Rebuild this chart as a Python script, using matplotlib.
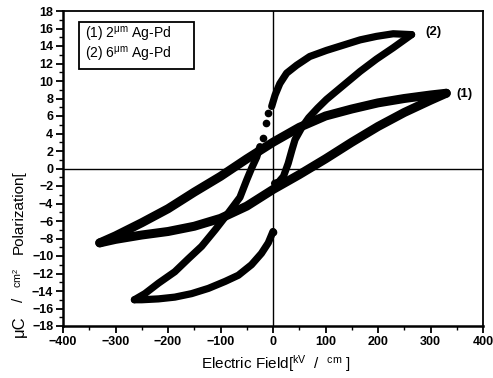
import numpy as np
import matplotlib
matplotlib.use('Agg')
import matplotlib.pyplot as plt
from matplotlib.patches import Rectangle
from matplotlib.ticker import MultipleLocator

plt.rcParams['font.family'] = ['Liberation Sans', 'Noto Sans CJK KR', 'DejaVu Sans']
plt.rcParams['mathtext.fontset'] = 'custom'
plt.rcParams['mathtext.rm'] = 'Liberation Sans'
plt.rcParams['mathtext.it'] = 'Liberation Sans:italic'

# loop (1) 2um Ag-Pd : descending then ascending branch
loop1_e_down = [330, 300, 250, 200, 150, 100, 50, 0, -50, -100, -150, -200, -250, -300, -330]
loop1_p_down = [8.6, 8.4, 8.0, 7.5, 6.8, 6.0, 4.7, 3.0, 1.1, -0.9, -2.7, -4.6, -6.2, -7.7, -8.5]
loop1_e_up = [-330, -300, -250, -200, -150, -100, -50, 0, 50, 100, 150, 200, 250, 300, 330]
loop1_p_up = [-8.5, -8.1, -7.6, -7.2, -6.6, -5.7, -4.3, -2.4, -0.7, 1.1, 3.0, 4.8, 6.4, 7.8, 8.6]

# loop (2) 6um Ag-Pd
loop2_e_top = [264, 229, 197, 166, 134, 102, 70, 45, 26, 13, 4, -2.5]
loop2_p_top = [15.3, 15.4, 15.1, 14.7, 14.1, 13.5, 12.8, 11.8, 10.9, 9.7, 8.4, 7.1]
loop2_e_gap = [-9, -13, -19]
loop2_p_gap = [6.3, 5.2, 3.5]
loop2_e_down = [-25, -31, -41, -50, -63, -88, -110, -136, -161, -187, -218, -244, -264]
loop2_p_down = [2.5, 1.3, 0.0, -1.3, -3.3, -5.3, -7.0, -8.9, -10.3, -11.8, -13.1, -14.3, -15.0]
loop2_e_bot = [-264, -250, -218, -187, -155, -123, -91, -66, -41, -22, -9, 0]
loop2_p_bot = [-15.0, -15.0, -14.9, -14.7, -14.3, -13.7, -12.9, -12.2, -11.0, -9.7, -8.5, -7.2]
loop2_e_jump = [0, 3]
loop2_p_jump = [-7.2, -1.7]
loop2_e_up = [3, 10, 20, 29, 36, 42, 55, 68, 85, 102, 134, 166, 197, 229, 264]
loop2_p_up = [-1.7, -1.6, -0.9, 0.6, 2.1, 3.3, 4.7, 5.8, 6.9, 7.9, 9.5, 11.1, 12.5, 13.8, 15.3]

xticks = [-400, -300, -200, -100, 0, 100, 200, 300, 400]
yticks = list(range(-18, 19, 2))

fig = plt.figure(figsize=(4.93, 3.78), dpi=100)
ax = fig.add_axes([63 / 493, 1 - 326 / 378, 420 / 493, 315 / 378])

ax.axhline(0, color='black', lw=1.0, zorder=1)
ax.axvline(0, color='black', lw=1.0, zorder=1)

kw1 = dict(color='black', lw=6.5, solid_capstyle='round', solid_joinstyle='round', zorder=3)
kw2 = dict(color='black', lw=5.2, solid_capstyle='round', solid_joinstyle='round', zorder=3)
ax.plot(loop1_e_down, loop1_p_down, **kw1)
ax.plot(loop1_e_up, loop1_p_up, **kw1)
ax.plot(loop2_e_top, loop2_p_top, **kw2)
ax.plot(loop2_e_down, loop2_p_down, **kw2)
ax.plot(loop2_e_bot, loop2_p_bot, **kw2)
ax.plot(loop2_e_up, loop2_p_up, **kw2)
ax.plot(loop2_e_gap, loop2_p_gap, 'o', color='black', ms=4.5, zorder=3)
ax.plot(loop2_e_jump, loop2_p_jump, 'o', color='black', ms=4.5, zorder=3)

ax.set_xlim(-400, 400)
ax.set_ylim(-18, 18)
ax.set_xticks(xticks)
ax.set_yticks(yticks)
ax.xaxis.set_minor_locator(MultipleLocator(50))
ax.yaxis.set_minor_locator(MultipleLocator(1))
ax.tick_params(which='major', direction='out', length=5, width=1.3, labelsize=9, pad=2)
ax.tick_params(which='minor', direction='out', length=3, width=1.0)
for lab in ax.get_xticklabels() + ax.get_yticklabels():
    lab.set_fontweight('bold')
for side in ['left', 'bottom']:
    ax.spines[side].set_linewidth(1.8)
for side in ['top', 'right']:
    ax.spines[side].set_linewidth(1.3)

# curve labels
ax.text(290, 15.6, '(2)', fontsize=9.5, fontweight='bold', va='center', ha='left')
ax.text(350, 8.5, '(1)', fontsize=9.5, fontweight='bold', va='center', ha='left')

# legend box
ax.add_patch(Rectangle((-370, 11.4), 220, 5.3, fill=False, lw=1.3, ec='black', zorder=4))
ax.text(-358, 15.3, r'(1) 2$^{\mathrm{μm}}$ Ag-Pd', fontsize=10, va='center', ha='left')
ax.text(-358, 13.0, r'(2) 6$^{\mathrm{μm}}$ Ag-Pd', fontsize=10, va='center', ha='left')

# axis labels
fig.text(276 / 493, 1 - 364 / 378, r'Electric Field[$^{\mathrm{kV}}$  /  $^{\mathrm{cm}}$ ]',
         fontsize=11, ha='center', va='center')
fig.text(19 / 493, 1 - 212 / 378, 'Polarization[', fontsize=11, rotation=90,
         ha='center', va='center')
fig.text(21 / 493, 1 - 278 / 378, r'$^{\mathrm{cm^2}}$', fontsize=11, rotation=90,
         ha='center', va='center')
fig.text(19 / 493, 1 - 300 / 378, '/', fontsize=11, rotation=90, ha='center', va='center')
fig.text(19 / 493, 1 - 326 / 378, 'μC', fontsize=12, rotation=90, ha='center', va='center')

fig.savefig('out.png', dpi=100)
